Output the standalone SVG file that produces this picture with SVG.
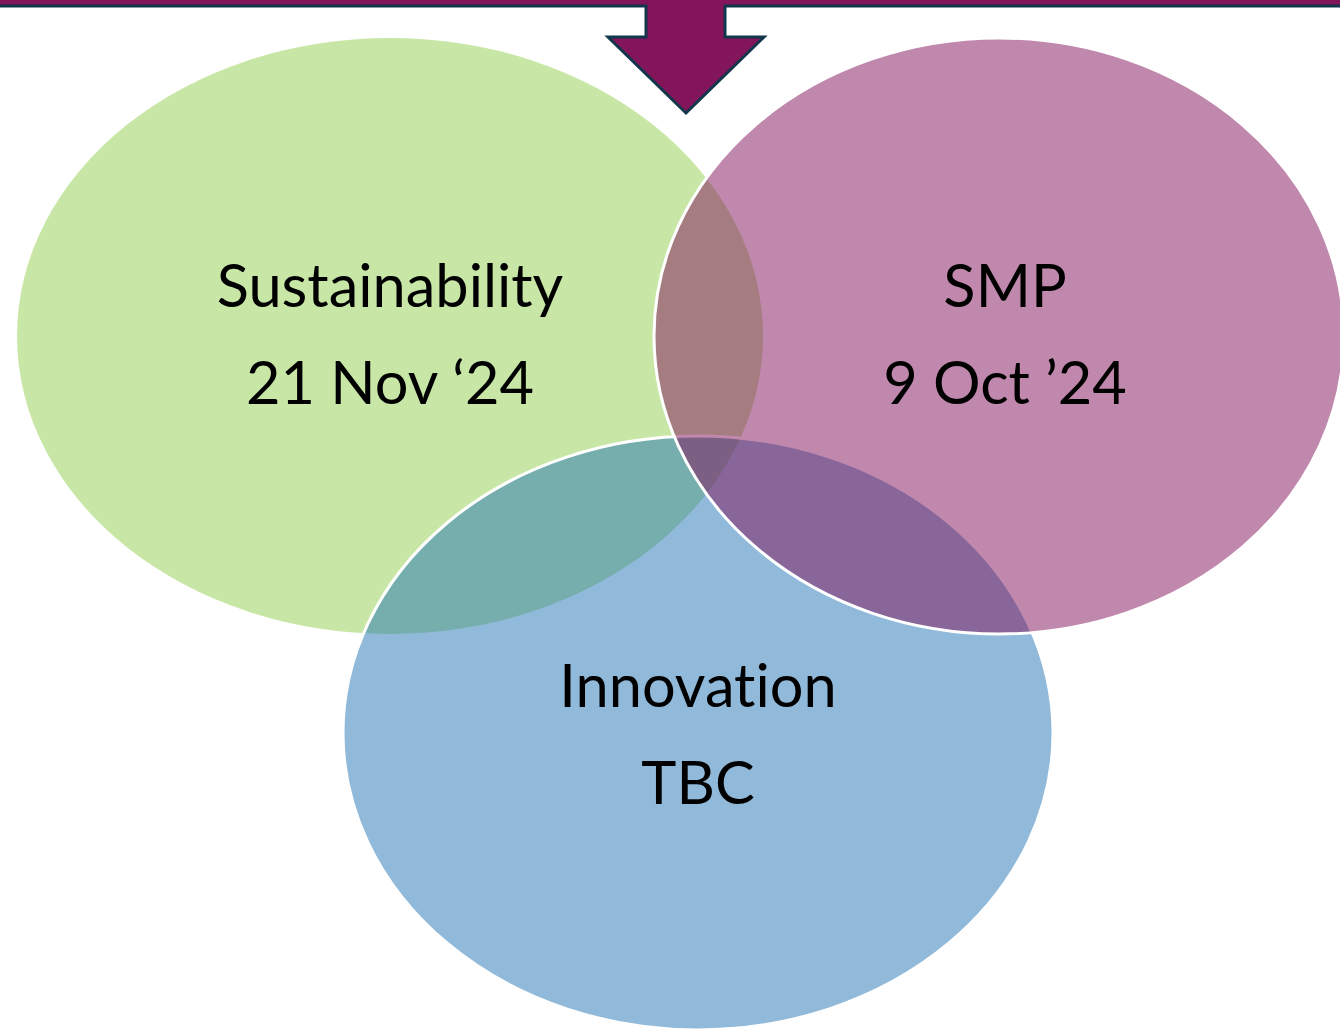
<svg xmlns="http://www.w3.org/2000/svg" width="1340" height="1029" viewBox="0 0 1340 1029">
  <style>
    .circle { fill-opacity: 0.5; }
    .edge { fill: none; stroke: #FFFFFF; stroke-width: 3; }
    .label { font-family: Lato, "Open Sans", "Liberation Sans", sans-serif; font-size: 59.5px; fill: #000000; text-anchor: middle; font-variant-ligatures: none; }
  </style>

  <rect width="1340" height="1029" fill="#FFFFFF"/>

  <!-- header bar with the downward arrow -->
  <g id="header-arrow">
    <path d="M -20,-20 L 1360,-20 L 1360,6 L 725,6 L 725,37 L 764,37 L 686,113 L 608,37 L 646,37 L 646,6 L -20,6 Z"
          fill="#83155A" stroke="#12374C" stroke-width="3" stroke-linejoin="miter"/>
  </g>

  <!-- venn circles: green, blue, then pink on top -->
  <g id="sustainability">
    <ellipse class="circle" cx="390" cy="336" rx="373" ry="298" fill="#92D050"/>
  </g>
  <g id="innovation">
    <ellipse class="circle" cx="698" cy="733" rx="355" ry="297" fill="#2475B6"/>
    <ellipse class="edge" cx="698" cy="733" rx="355" ry="297"/>
  </g>
  <g id="smp">
    <ellipse class="circle" cx="999" cy="336" rx="345" ry="298" fill="#811159"/>
    <ellipse class="edge" cx="999" cy="336" rx="345" ry="298"/>
  </g>

  <g id="connectors"></g>

  <!-- labels -->
  <g id="labels">
    <text class="label" x="390" y="307">Sustainability</text>
    <text class="label" x="390" y="404">21 Nov ‘24</text>
    <text class="label" x="1005" y="307">SMP</text>
    <text class="label" x="1005" y="404">9 Oct ’24</text>
    <text class="label" x="698" y="707">Innovation</text>
    <text class="label" x="698" y="804">TBC</text>
  </g>
</svg>
